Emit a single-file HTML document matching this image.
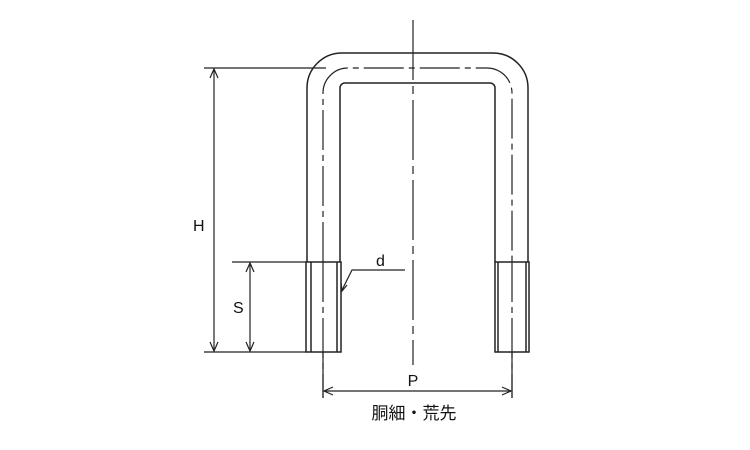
<!DOCTYPE html>
<html><head><style>body{margin:0;background:#fff}svg{display:block}</style></head><body>
<svg width="750" height="450" viewBox="0 0 750 450" xmlns="http://www.w3.org/2000/svg" font-family="Liberation Sans, sans-serif">
<g fill="none" stroke="#222" stroke-width="1.5">
<path d="M307 262 V88 A35 35 0 0 1 342 53 H493 A35 35 0 0 1 528 88 V262"/>
<path d="M340 262 V88 A5 5 0 0 1 345 83 H490 A5 5 0 0 1 495 88 V262"/>
<rect x="306" y="262" width="35" height="90"/>
<line x1="311" y1="262" x2="311" y2="352"/><line x1="337" y1="262" x2="337" y2="352"/>
<rect x="495" y="262" width="34" height="90"/>
<line x1="498" y1="262" x2="498" y2="352"/><line x1="526" y1="262" x2="526" y2="352"/>
</g>
<g fill="none" stroke="#222" stroke-width="1.2">
<path d="M323 262 V93 A25 25 0 0 1 348 68 H487 A25 25 0 0 1 512 93 V262" stroke-dasharray="40 5 6 5"/>
<line x1="323" y1="262" x2="323" y2="398" stroke-dasharray="40 5 6 5"/>
<line x1="512" y1="262" x2="512" y2="398" stroke-dasharray="40 5 6 5"/>
<line x1="323" y1="352" x2="323" y2="398"/>
<line x1="512" y1="352" x2="512" y2="398"/>
<line x1="413" y1="20" x2="413" y2="365" stroke-dasharray="60 6 8 6"/>
<line x1="204" y1="68" x2="326" y2="68"/>
<line x1="204" y1="352" x2="306" y2="352"/>
<line x1="214" y1="69" x2="214" y2="351"/>
<path d="M210 78 L214 69 L218 78 M210 342 L214 351 L218 342"/>
<line x1="232" y1="262" x2="306" y2="262"/>
<line x1="250" y1="263" x2="250" y2="351"/>
<path d="M246 272 L250 263 L254 272 M246 342 L250 351 L254 342"/>
<line x1="324" y1="391" x2="511" y2="391"/>
<path d="M333 387 L324 391 L333 395 M502 387 L511 391 L502 395"/>
<path d="M405 270 H352 L342 290"/>
<path d="M341 283 L342 291 L347 285"/>
</g>
<g fill="#111" font-size="16">
<text x="193" y="231">H</text>
<text x="233" y="313">S</text>
<text x="376" y="266">d</text>
<text x="413" y="386" text-anchor="middle">P</text>
<text x="414" y="419" text-anchor="middle" font-family="Liberation Sans, Noto Sans CJK JP, sans-serif" font-size="17">胴細・荒先</text>
</g>
</svg>
</body></html>
